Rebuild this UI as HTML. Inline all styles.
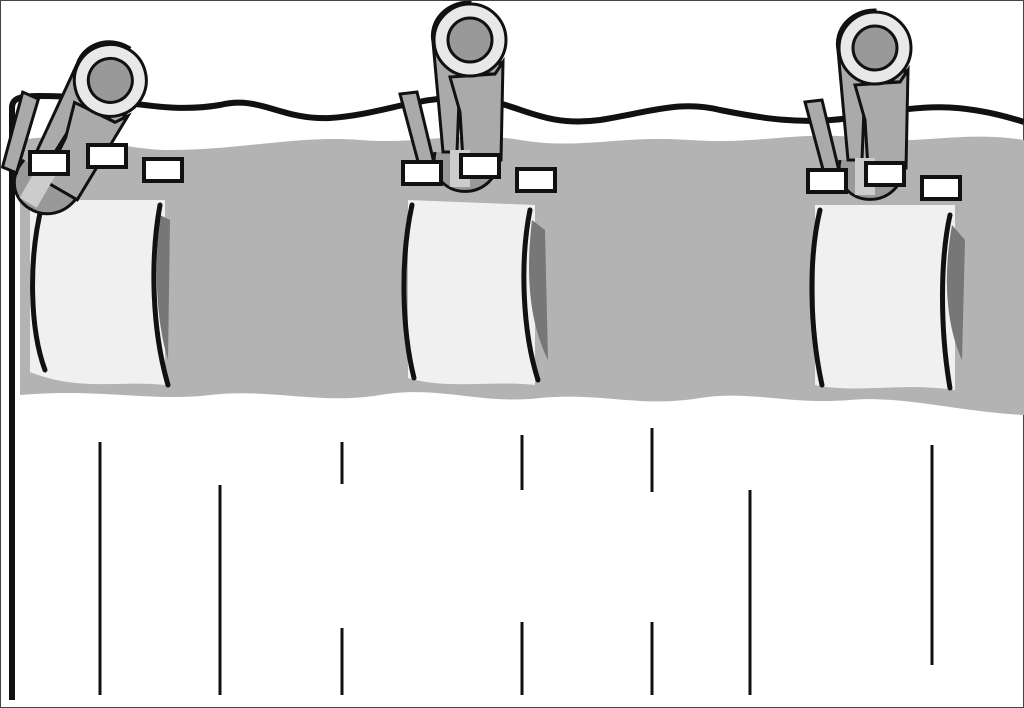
<!DOCTYPE html>
<html><head><style>html,body{margin:0;padding:0;background:#fff}svg{display:block}</style></head>
<body>
<svg width="1024" height="708" viewBox="0 0 1024 708" xmlns="http://www.w3.org/2000/svg">
<rect x="0.5" y="0.5" width="1023" height="707" fill="#fff" stroke="#444" stroke-width="1"/>
<path d="M20,140 C80,130 120,150 170,150 C240,150 300,135 360,140 C420,145 460,130 520,140 C580,150 620,135 690,140 C760,145 800,130 860,138 C920,146 960,130 1024,140 L1024,415 C960,412 900,395 850,400 C790,405 750,390 700,398 C640,408 600,392 540,398 C480,405 440,385 380,395 C320,405 270,388 210,395 C150,402 100,388 20,395 Z" fill="#b3b3b3"/>
<path d="M30,200 L165,200 L165,385 C120,380 80,392 30,372 Z" fill="#f0f0f0"/>
<path d="M408,200 L535,205 L535,385 C490,380 450,390 408,378 Z" fill="#f0f0f0"/>
<path d="M815,205 L955,205 L955,390 C900,382 860,394 815,385 Z" fill="#f0f0f0"/>
<g fill="#777"><path d="M160,215 C154,270 156,320 168,360 L170,220Z"/><path d="M532,220 C526,270 528,320 548,360 L545,230Z"/><path d="M952,225 C944,270 944,320 962,360 L965,240Z"/></g>
<g fill="none" stroke="#111" stroke-width="5" stroke-linecap="round">
<path d="M42,205 C28,260 30,330 45,370"/>
<path d="M160,205 C150,260 152,330 168,385"/>
<path d="M412,205 C400,260 402,330 414,378"/>
<path d="M530,210 C520,260 522,330 538,380"/>
<path d="M820,210 C808,260 810,330 822,385"/>
<path d="M950,215 C940,260 940,330 950,388"/>
</g>
<path d="M12,700 L12,108 C12,98 20,96 40,96 C120,96 160,115 220,105 C260,95 280,120 330,118 C380,115 420,95 470,98 C520,102 540,128 600,120 C650,112 680,100 720,110 C760,118 800,125 850,118 C900,112 940,95 1024,122" fill="none" stroke="#111" stroke-width="6"/>
<defs>
<g id="body">
<path d="M-30,150 C-40,200 35,205 35,150" fill="#999" stroke="#111" stroke-width="3"/>
<path d="M-32,40 C-36,20 -20,0 5,0 L5,60 L35,60 L35,72 L-5,72 L-8,150 L-22,150 Z" fill="#aaa" stroke="#111" stroke-width="3"/>
<path d="M-15,75 L30,72 L38,60 L36,158 L-2,158 L-5,110 Z" fill="#aaa" stroke="#111" stroke-width="3"/>
<path d="M-65,92 L-48,90 L-30,165 L-45,167 Z" fill="#aaa" stroke="#111" stroke-width="3"/>
<path d="M-15,148 L-15,185 L5,185 L5,148 Z" fill="#ccc"/>
<circle cx="5" cy="38" r="36" fill="#e8e8e8" stroke="#111" stroke-width="3"/>
<circle cx="5" cy="38" r="22" fill="#999" stroke="#111" stroke-width="3"/>
</g>
<g id="tabs">
<rect x="-62" y="160" width="38" height="22" fill="#fff" stroke="#111" stroke-width="4"/>
<rect x="-4" y="153" width="38" height="22" fill="#fff" stroke="#111" stroke-width="4"/>
<rect x="52" y="167" width="38" height="22" fill="#fff" stroke="#111" stroke-width="4"/>
</g>
</defs>
<use href="#body" transform="translate(465,2)"/><use href="#tabs" transform="translate(465,2)"/>
<use href="#body" transform="translate(870,10)"/><use href="#tabs" transform="translate(870,10)"/>
<use href="#body" transform="translate(125,45) rotate(30)"/><use href="#tabs" transform="translate(92,-8)"/>
<g stroke="#111" stroke-width="3">
<line x1="100" y1="442" x2="100" y2="695"/>
<line x1="220" y1="485" x2="220" y2="695"/>
<line x1="342" y1="442" x2="342" y2="484"/><line x1="342" y1="628" x2="342" y2="695"/>
<line x1="522" y1="435" x2="522" y2="490"/><line x1="522" y1="622" x2="522" y2="695"/>
<line x1="652" y1="428" x2="652" y2="492"/><line x1="652" y1="622" x2="652" y2="695"/>
<line x1="750" y1="490" x2="750" y2="695"/>
<line x1="932" y1="445" x2="932" y2="665"/>
</g>
</svg>
</body></html>
